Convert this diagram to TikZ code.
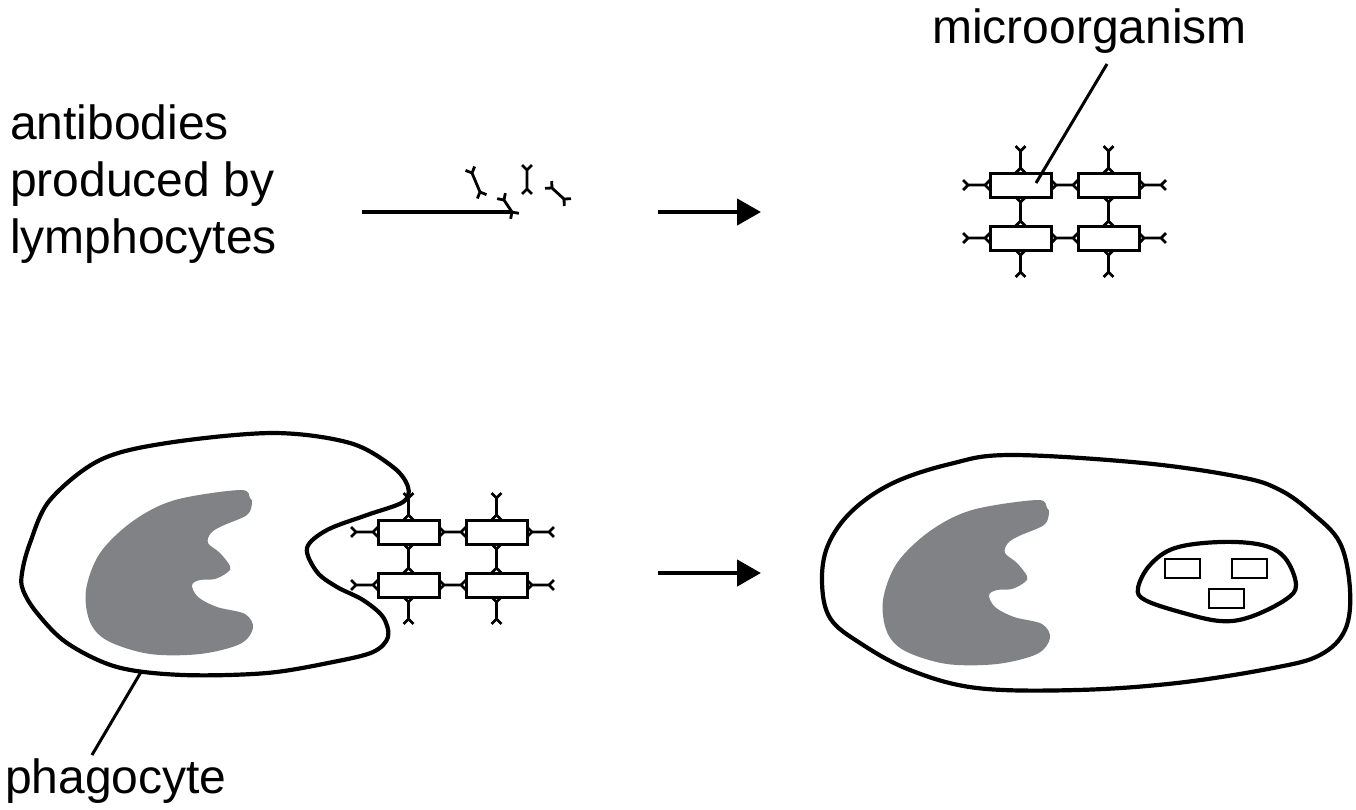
\documentclass[tikz,border=0pt]{standalone}
\usepackage{fontspec}
\setmainfont{Liberation Sans}
\usetikzlibrary{calc,arrows.meta}
\definecolor{nucleusgray}{RGB}{128,130,133}
\newcommand{\antibody}[2]{%
	\draw[ab] ($#1!7pt!-135:#2$) -- #1 -- ($#1!7pt!135:#2$)
		#1 -- #2
		($#2!7pt!-135:#1$) -- #2 -- ($#2!7pt!135:#1$);}
\tikzset{
	celltext/.style={anchor=base west, inner sep=0pt, font=\fontsize{48}{57}\selectfont},
	membrane/.style={line width=4.2pt, line join=round},
	mbox/.style={line width=3pt},
	ab/.style={line width=2.8pt, line join=round},
	pointer/.style={line width=3pt},
	flow/.style={line width=4.5pt, -{Triangle[length=24pt,width=26pt]}},
	nucleus/.pic={
		\fill[nucleusgray] plot[smooth cycle, tension=0.55] coordinates {
			(250,498) (240,490) (175,500) (133,521) (100,553) (86,590) (90,622)
			(108,641) (150,654) (200,654) (240,644) (253,628) (245,614) (217,607)
			(198,597) (192,585) (200,580) (215,579) (228,572) (230,566) (220,553)
			(208,543) (211,533) (222,526) (247,515) (252,503)};
	},
	microbe/.pic={
		\foreach \cx/\cy in {0/0,88/0,0/53,88/53}
			\draw[mbox] (\cx,\cy) rectangle ++(61,24);
		\foreach \ax/\ay/\bx/\by in {30.5/-5/30.5/-22, 118.5/-5/118.5/-22,
				30.5/29/30.5/48, 118.5/29/118.5/48, 30.5/82/30.5/99, 118.5/82/118.5/99,
				-5/12/-22/12, 66/12/83/12, 154/12/171/12,
				-5/65/-22/65, 66/65/83/65, 154/65/171/65}
			{\antibody{(\ax,\ay)}{(\bx,\by)}}
	}
}
\begin{document}
\begin{tikzpicture}[x=1pt, y=-1pt]
	\useasboundingbox (0,0) rectangle (1356,809);

	\node[celltext] (ab1) at (10,139) {antibodies};
	\node[celltext] (ab2) at (10,196) {produced by};
	\node[celltext] (ab3) at (10,253) {lymphocytes};
	\node[celltext] (micro) at (932,43) {microorganism};
	\node[celltext] (phago) at (5,793) {phagocyte};

	\coordinate (src) at (362,212);
	\coordinate (abend) at (512,212);
	\draw[membrane] (src) -- (abend);
	\antibody{(504,200)}{(abend)}
	\antibody{(472,173)}{(480,192)}
	\antibody{(527,170)}{(527,189)}
	\antibody{(552,188)}{(564,199)}

	\coordinate (f1a) at (658,212);
	\coordinate (f1b) at (761,212);
	\coordinate (f2a) at (658,573);
	\coordinate (f2b) at (761,573);
	\draw[flow] (f1a) -- (f1b);
	\draw[flow] (f2a) -- (f2b);

	\pic at (990,173) {microbe};
	\coordinate (mtop) at (1107,64);
	\coordinate (mtip) at (1036,183);
	\draw[pointer] (mtop) -- (mtip);

	\pic at (0,0) {nucleus};
	\draw[membrane] plot[smooth cycle, tension=0.55] coordinates {
		(22,573) (30,543) (50,500) (100,460) (167,443) (273,433) (350,443)
		(393,467) (408,487) (403,502) (367,515) (327,530) (307,548) (317,572)
		(337,587) (363,600) (383,617) (388,637) (373,652) (333,662) (267,673)
		(183,675) (117,667) (67,643) (37,613) (23,590)};
	\pic at (378,520) {microbe};
	\coordinate (ptip) at (141,672);
	\coordinate (pfoot) at (92,755);
	\draw[pointer] (pfoot) -- (ptip);

	\pic at (797,10) {nucleus};
	\draw[membrane] plot[smooth cycle, tension=0.6] coordinates {
		(822,582) (828,545) (852,511) (893,483) (950,464) (1010,455) (1143,463)
		(1240,477) (1280,490) (1312,513) (1340,543) (1350,590)
		(1345,630) (1320,655) (1273,668) (1177,683) (1077,690)
		(977,688) (910,670) (860,643) (830,618)};
	\draw[membrane] plot[smooth cycle, tension=0.6] coordinates {
		(1138,588) (1150,565) (1175,548) (1220,542) (1262,545) (1285,558)
		(1296,585) (1285,600) (1250,617) (1220,621) (1180,612) (1145,600)};
	\foreach \vx/\vy in {1165/559, 1232/559, 1209/589}
		\draw[line width=2.5pt] (\vx,\vy) rectangle ++(35,19);
\end{tikzpicture}
\end{document}
